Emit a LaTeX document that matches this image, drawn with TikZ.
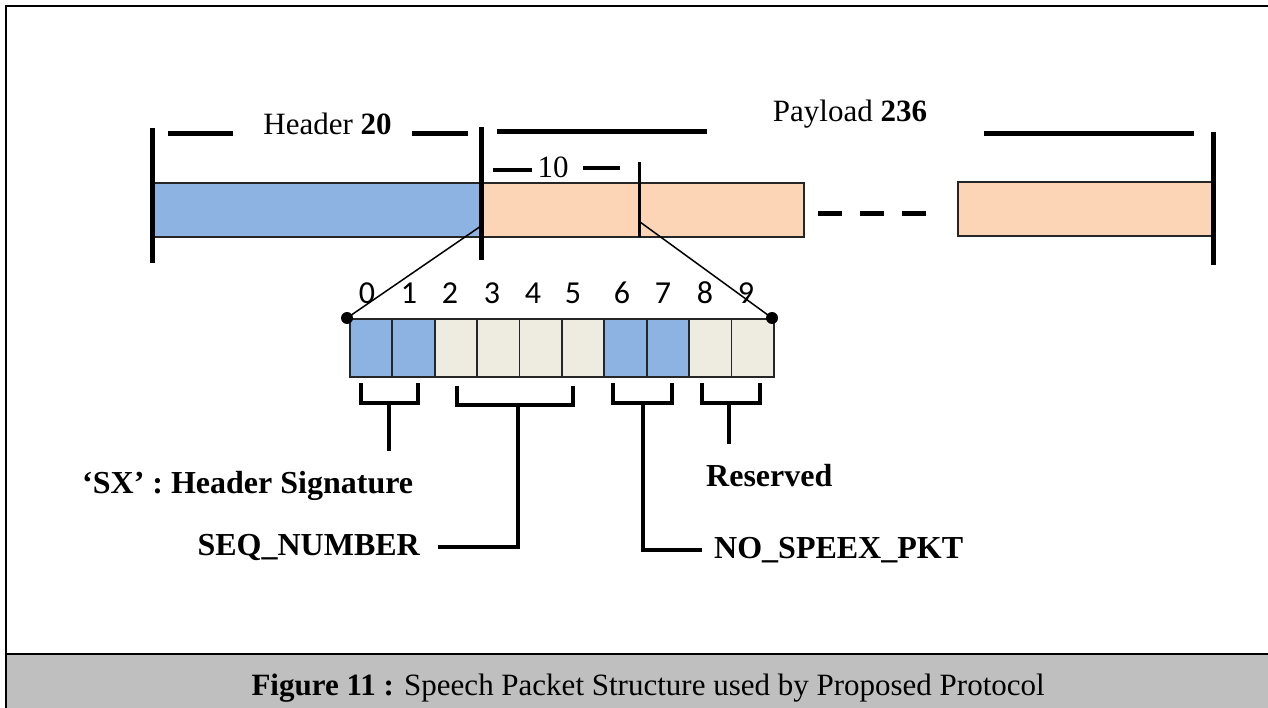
\documentclass[tikz,border=0pt]{standalone}
\usepackage{fontspec}
\setmainfont{Liberation Serif}
\newfontfamily\digitfont{Carlito}
\definecolor{hdrblue}{HTML}{8DB3E2}
\definecolor{plpeach}{HTML}{FBD5B5}
\definecolor{bitbeige}{HTML}{EEECE1}
\definecolor{capgray}{HTML}{BFBFBF}

\begin{document}
\begin{tikzpicture}[x=1pt,y=-1pt,
    font=\fontsize{31}{36}\selectfont,
    bar/.style={line width=5pt},
    dim/.style={line width=5pt},
    box/.style={draw=black!85,line width=1.8pt},
    brk/.style={line width=4pt},
    bit/.style={draw=black!85,line width=1.8pt,minimum width=42.4pt,minimum height=58pt,inner sep=0pt,anchor=north west},
    lbl/.style={font=\fontsize{32}{38}\selectfont\bfseries,inner xsep=0pt,inner ysep=20pt}]
        % frame
        \useasboundingbox (0,0) rectangle (1268,708);
        \clip (0,0) rectangle (1268,708);
        \fill[capgray] (6,654) rectangle (1300,720);
        \draw[line width=2.5pt] (6,6) rectangle (1300,720);
        \draw[line width=2.5pt] (6,654) -- (1300,654);
        \node[anchor=base west] (cap) at (248,695) {\textbf{Figure 11 :} Speech Packet Structure used by Proposed Protocol};
        % packet
        \draw[box,fill=hdrblue] (152,183) rectangle (481,237);
        \draw[box,fill=plpeach] (481,183) rectangle (804,237);
        \draw[box,fill=plpeach] (958,182) rectangle (1212,236);
        \draw[dim,dash pattern=on 24pt off 18pt] (818,214) -- (926,214);
        \draw[bar] (152,128) -- (152,263);
        \draw[bar] (481,127) -- (481,260);
        \draw[bar] (1213,132) -- (1213,265);
        \draw[line width=3pt] (639,162) -- (639,237);
        % sizes
        \draw[dim] (168,134) -- (233,134);
        \draw[dim] (412,134) -- (468,134);
        \draw[dim] (497,132) -- (707,132);
        \draw[dim] (984,134) -- (1194,134);
        \draw[line width=3.5pt] (493,170) -- (532,170);
        \draw[line width=3.5pt] (583,168) -- (620,168);
        \node[anchor=base] (hdr) at (327.5,135) {Header \textbf{20}};
        \node[anchor=base] (pld) at (850,122) {Payload \textbf{236}};
        \node[anchor=base] (ten) at (553,178) {10};
        % bits
        \foreach \i/\c/\d in {0/hdrblue/367,1/hdrblue/409,2/bitbeige/450,3/bitbeige/492,4/bitbeige/533,
                              5/bitbeige/573,6/hdrblue/622,7/hdrblue/663,8/bitbeige/705,9/bitbeige/746} {
            \node[bit,fill=\c] (c\i) at ({349+42.4*\i},318) {};
            \node[anchor=base,font=\fontsize{32}{38}\digitfont] (n\i) at (\d,304) {\i};
        }
        \coordinate (hd) at (481,226);
        \coordinate (pl) at (640,222);
        \node[circle,fill,inner sep=0pt,minimum size=12pt] (d0) at (347,318) {};
        \node[circle,fill,inner sep=0pt,minimum size=12pt] (d9) at (772,318) {};
        \draw[line width=1.5pt] (hd) -- (d0.center);
        \draw[line width=1.5pt] (pl) -- (d9.center);
        % fields
        \draw[brk] (361,383) |- (418,403) -- (418,383);
        \draw[brk] (457,386) |- (573,405) -- (573,386);
        \draw[brk] (613,383) |- (672,403) -- (672,383);
        \draw[brk] (702,383) |- (760,403) -- (760,383);
        \coordinate (b1) at (389,403);
        \coordinate (b2) at (518,405);
        \coordinate (b3) at (643,403);
        \coordinate (b4) at (729,403);
        \node[lbl,anchor=base west] (sx) at (82,493) {`SX' : Header Signature};
        \node[lbl,anchor=base east] (seq) at (420,555) {SEQ\_NUMBER};
        \node[lbl,anchor=base west] (nsp) at (714,558) {NO\_SPEEX\_PKT};
        \node[lbl,anchor=base west] (rsv) at (706,486) {Reserved};
        \draw[brk] (b1) -- (b1 |- sx.north);
        \draw[brk] (b4) -- (b4 |- rsv.north);
        \draw[brk] (b2) |- ([xshift=18pt]seq.east);
        \draw[brk] (b3) |- ([xshift=-12pt]nsp.west);
    \end{tikzpicture}
\end{document}
